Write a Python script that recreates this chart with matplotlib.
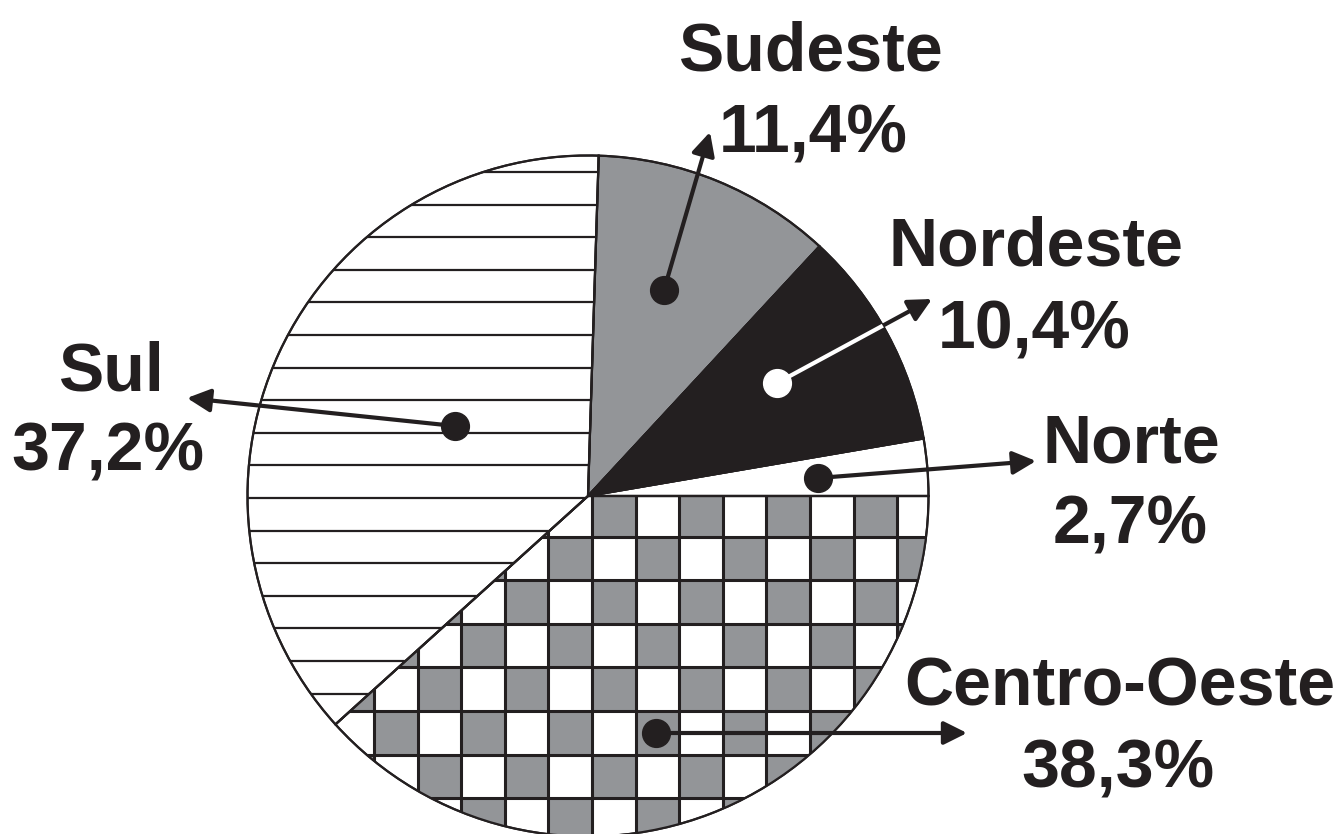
import matplotlib
matplotlib.use("Agg")
import matplotlib.pyplot as plt
from matplotlib.patches import Rectangle, Wedge, FancyArrowPatch

# Population share by region
regions = ["Sudeste", "Nordeste", "Norte", "Centro-Oeste", "Sul"]
shares = [11.4, 10.4, 2.7, 38.3, 37.2]
share_labels = ["11,4%", "10,4%", "2,7%", "38,3%", "37,2%"]

W, H = 1344, 834
INK = "#231f20"
GRAY = "#939598"


def Y(y):
    """Convert a top-down pixel row into the axes' bottom-up coordinate."""
    return H - y


fig = plt.figure(figsize=(W / 100, H / 100), dpi=100)
ax = fig.add_axes([0, 0, 1, 1])

cx, cy, R = 588, Y(496), 340.5
wedges, _ = ax.pie(
    shares, startangle=88.2, counterclock=False, center=(cx, cy), radius=R,
    colors=[GRAY, INK, "white", "white", "white"],
    wedgeprops=dict(edgecolor=INK, linewidth=1.5),
)
for w in wedges:
    w.set_zorder(1)

# Checkerboard fill for Centro-Oeste
co = wedges[3]
step = 43.6
gx0, gy0 = 592, Y(493)
for i in range(-10, 10):
    for j in range(0, 10):
        if (i + j) % 2 == 0:
            r = Rectangle((gx0 + i * step, gy0 - (j + 1) * step), step, step,
                          fc=GRAY, ec="none", zorder=2)
            ax.add_patch(r)
            r.set_clip_path(co)
for i in range(-10, 10):
    ln, = ax.plot([gx0 + i * step] * 2, [gy0, -100], color=INK, lw=2.2, zorder=2.5)
    ln.set_clip_path(co)
for j in range(0, 10):
    ln, = ax.plot([150, 1000], [gy0 - j * step] * 2, color=INK, lw=2.2, zorder=2.5)
    ln.set_clip_path(co)

# Horizontal hatching for Sul
sul = wedges[4]
for k in range(-12, 12):
    yy = Y(498 + k * 32.6)
    ln, = ax.plot([200, 700], [yy, yy], color=INK, lw=1.6, zorder=2)
    ln.set_clip_path(sul)

# Slice outlines on top of the fills
for w in wedges:
    ax.add_patch(Wedge((cx, cy), R, w.theta1, w.theta2, fc="none", ec=INK,
                       lw=1.6, zorder=3))

# Leader arrows: dot inside the slice, arrow head near the label
pointers = {
    "Sudeste": ((664, 290), (710, 132)),
    "Nordeste": ((777, 383), (932, 299)),
    "Norte": ((818, 478), (1036, 461)),
    "Centro-Oeste": ((656, 733), (967, 733)),
    "Sul": ((455, 426), (187, 398)),
}
for idx, name in enumerate(regions):
    (dx, dy), (tx, ty) = pointers[name]
    a = (dx, Y(dy))
    b = (tx, Y(ty))
    arr = FancyArrowPatch(a, b, arrowstyle="-|>,head_length=14,head_width=7",
                          mutation_scale=1, lw=3, color=INK,
                          shrinkA=0, shrinkB=0, zorder=4)
    ax.add_patch(arr)
    if name == "Nordeste":
        ln, = ax.plot([a[0], b[0]], [a[1], b[1]], color="white", lw=3,
                      solid_capstyle="butt", zorder=5)
        ln.set_clip_path(wedges[idx])
        ax.plot(*a, "o", ms=20, color="white", mec="white", zorder=6)
    else:
        ax.plot(*a, "o", ms=20, color=INK, mec=INK, zorder=6)

# Labels
label_pos = {
    "Sudeste": ((810, 70), (813, 152)),
    "Nordeste": ((1036, 265), (1034, 348)),
    "Norte": ((1131, 462), (1130, 543)),
    "Centro-Oeste": ((1120, 705), (1118, 787)),
    "Sul": ((111, 390), (108, 470)),
}
font = dict(family="Liberation Sans", weight="bold", size=49, color=INK,
            ha="center", va="baseline")
for name, pct in zip(regions, share_labels):
    (nx, ny), (px, py) = label_pos[name]
    ax.text(nx, Y(ny), name, **font, zorder=7)
    ax.text(px, Y(py), pct, **font, zorder=7)

ax.set_xlim(0, W)
ax.set_ylim(0, H)
ax.set_aspect("auto")
ax.axis("off")
fig.savefig("out.png", dpi=100)
